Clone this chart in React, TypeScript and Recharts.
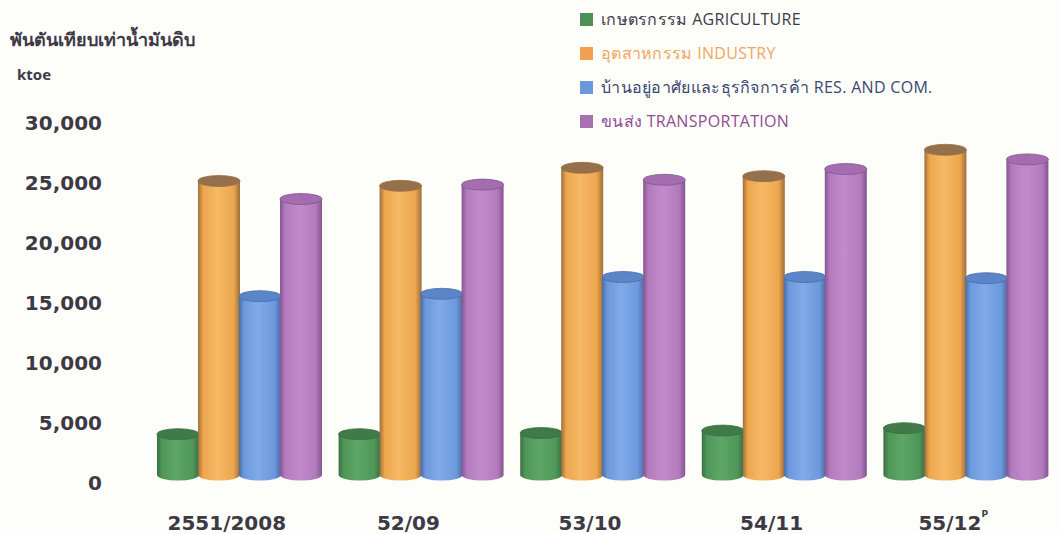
import React from "react";
import { BarChart, Bar, XAxis, YAxis } from "recharts";

// Final energy consumption by economic sector (ktoe)
const categories = ["2551/2008", "52/09", "53/10", "54/11", "55/12"];
const preliminary = [false, false, false, false, true];
const agriculture = [3400, 3400, 3500, 3700, 3900];
const industry = [24500, 24100, 25600, 24900, 27100];
const resCom = [14900, 15100, 16500, 16500, 16400];
const transport = [23000, 24200, 24600, 25500, 26300];
const yTicks = [0, 5000, 10000, 15000, 20000, 25000, 30000];

const seriesNames = [
  "เกษตรกรรม AGRICULTURE",
  "อุตสาหกรรม INDUSTRY",
  "บ้านอยู่อาศัยและธุรกิจการค้า RES. AND COM.",
  "ขนส่ง TRANSPORTATION",
];

const data = categories.map((c, i) => ({
  name: c,
  agriculture: agriculture[i],
  industry: industry[i],
  resCom: resCom[i],
  transport: transport[i],
}));

type Tone = { key: string; dark: string; mid: string; light: string; top: string; swatch: string; text: string };

const tones: Tone[] = [
  { key: "agriculture", dark: "#3a6f42", mid: "#4f9659", light: "#5ea667", top: "#3f7a48", swatch: "#4d8f55", text: "#3b3b48" },
  { key: "industry", dark: "#9c6e3a", mid: "#eda64e", light: "#f6b965", top: "#94704c", swatch: "#f3a050", text: "#f2a65a" },
  { key: "resCom", dark: "#4a6ca8", mid: "#6c99dd", light: "#80aae9", top: "#5a85c9", swatch: "#6a98d8", text: "#3a4770" },
  { key: "transport", dark: "#85548f", mid: "#b37bbd", light: "#c18bca", top: "#a36daf", swatch: "#a870b0", text: "#8e4e90" },
];

const RY = 5.5;

function Cylinder(props: any) {
  const { x, y, width, height, tone } = props;
  if (width == null || height == null || height <= 0) return null;
  const rx = width / 2;
  const bottom = y + height;
  const body = `M${x},${y} L${x},${bottom} A${rx},${RY} 0 0 0 ${x + width},${bottom} L${x + width},${y} Z`;
  return (
    <g>
      <path d={body} fill={`url(#grad-${tone.key})`} />
      <ellipse cx={x + rx} cy={y} rx={rx} ry={RY} fill={tone.top} stroke={tone.dark} strokeWidth={0.8} />
    </g>
  );
}

function YTick(props: any) {
  const { y, payload } = props;
  return (
    <text
      x={102}
      y={y + 8}
      textAnchor="end"
      dominantBaseline="central"
      fontFamily="DejaVu Sans, sans-serif"
      fontWeight={700}
      fontSize={20}
      fill="#3d3a46"
    >
      {Number(payload.value).toLocaleString("en-US")}
    </text>
  );
}

function XTick(props: any) {
  const { x, y, payload, index } = props;
  return (
    <text
      x={x - 13}
      y={y + 40}
      textAnchor="middle"
      dominantBaseline="central"
      fontFamily="DejaVu Sans, sans-serif"
      fontWeight={700}
      fontSize={20}
      fill="#3d3a46"
    >
      {payload.value}
      {preliminary[index] ? (
        <tspan fontSize={9} dy={-9}>P</tspan>
      ) : null}
    </text>
  );
}

function LegendBox() {
  return (
    <div style={{ position: "absolute", left: 580, top: 2, fontFamily: "'Open Sans', 'Noto Sans', sans-serif", fontSize: 16 }}>
      {tones.map((t, i) => (
        <div key={t.key} style={{ display: "flex", alignItems: "center", height: 34 }}>
          <span style={{ width: 13, height: 13, background: t.swatch, marginRight: 8, display: "inline-block" }} />
          <span style={{ color: t.text, letterSpacing: 0.3, whiteSpace: "nowrap" }}>{seriesNames[i]}</span>
        </div>
      ))}
    </div>
  );
}

export default function App() {
  return (
    <div style={{ position: "absolute", left: 0, top: 0, width: 1058, height: 534, background: "#fdfdfa", fontFamily: "'Noto Sans', sans-serif" }}>
      <div style={{ position: "absolute", left: 10, top: 25, fontWeight: 800, fontSize: 18, color: "#3d3a46", whiteSpace: "nowrap" }}>
        พันตันเทียบเท่าน้ำมันดิบ
      </div>
      <div style={{ position: "absolute", left: 17, top: 64, fontWeight: 700, fontSize: 15, color: "#3d3a46" }}>ktoe</div>
      <LegendBox />
      <div style={{ position: "absolute", left: 0, top: 0 }}>
        <BarChart
          width={1058}
          height={534}
          data={data}
          margin={{ top: 115, right: 1, bottom: 0, left: 0 }}
          barSize={42}
          barGap={-1}
        >
          <defs>
            {tones.map((t) => (
              <linearGradient key={t.key} id={`grad-${t.key}`} x1="0" y1="0" x2="1" y2="0">
                <stop offset="0" stopColor={t.dark} />
                <stop offset="0.12" stopColor={t.mid} />
                <stop offset="0.45" stopColor={t.light} />
                <stop offset="0.85" stopColor={t.mid} />
                <stop offset="1" stopColor={t.dark} />
              </linearGradient>
            ))}
          </defs>
          <XAxis dataKey="name" height={59} axisLine={false} tickLine={false} tick={<XTick />} interval={0} />
          <YAxis width={149} domain={[0, 30000]} ticks={yTicks} axisLine={false} tickLine={false} tick={<YTick />} interval={0} />
          {tones.map((t, i) => (
            <Bar
              key={t.key}
              dataKey={t.key}
              name={seriesNames[i]}
              fill={t.mid}
              isAnimationActive={false}
              shape={(p: any) => <Cylinder {...p} tone={t} />}
            />
          ))}
        </BarChart>
      </div>
    </div>
  );
}
